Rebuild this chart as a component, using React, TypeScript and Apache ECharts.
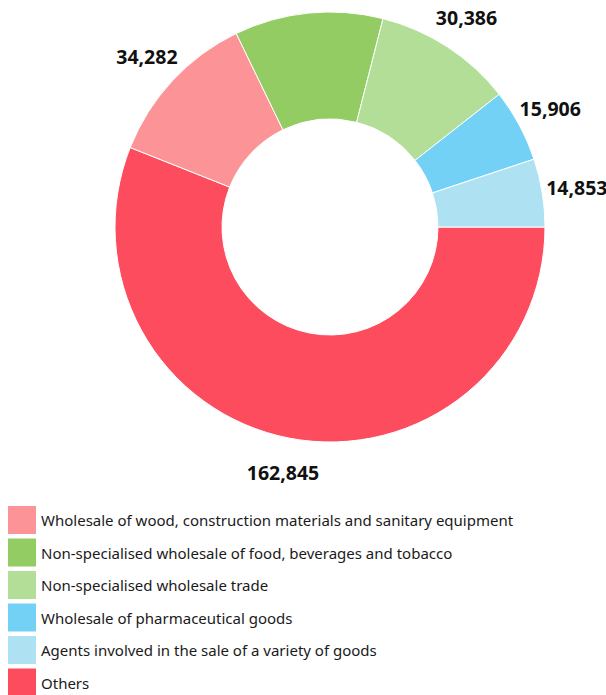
import React, { useEffect, useRef } from "react";
import * as echarts from "echarts";

const categories = [
  "Others",
  "Wholesale of wood, construction materials and sanitary equipment",
  "Non-specialised wholesale of food, beverages and tobacco",
  "Non-specialised wholesale trade",
  "Wholesale of pharmaceutical goods",
  "Agents involved in the sale of a variety of goods",
];
const values = [162845, 34282, 32400, 30386, 15906, 14853];
const showLabel = [true, true, false, true, true, true];
const colors = ["#FC4C5D", "#FB9397", "#93CC62", "#B2DE98", "#74D1F6", "#AEE2F3"];
const legendOrder = [
  "Wholesale of wood, construction materials and sanitary equipment",
  "Non-specialised wholesale of food, beverages and tobacco",
  "Non-specialised wholesale trade",
  "Wholesale of pharmaceutical goods",
  "Agents involved in the sale of a variety of goods",
  "Others",
];

export default function App() {
  const ref = useRef<HTMLDivElement>(null);
  useEffect(() => {
    document.body.style.margin = "0";
    const chart = echarts.init(ref.current!, null, { renderer: "svg" });
    const fmt = (v: number) => v.toLocaleString("en-US");
    chart.setOption({
      animation: false,
      color: colors,
      legend: {
        orient: "vertical",
        left: 8,
        top: 506,
        height: 220,
        padding: 0,
        itemWidth: 28,
        itemHeight: 28,
        itemGap: 4.5,
        icon: "rect",
        itemStyle: { borderWidth: 0 },
        data: legendOrder,
        textStyle: { fontFamily: "Noto Sans", fontSize: 15, color: "#1a1a1a" },
        selectedMode: false,
      },
      series: [
        {
          type: "pie",
          center: [330, 227],
          radius: [108, 215],
          startAngle: 0,
          clockwise: true,
          silent: true,
          label: { show: false },
          labelLine: { show: false },
          itemStyle: { borderColor: "#fff", borderWidth: 1 },
          data: categories.map((c, i) => ({ name: c, value: values[i] })),
        },
        {
          type: "pie",
          center: [330, 227],
          radius: [236, 258],
          startAngle: 0,
          clockwise: true,
          silent: true,
          legendHoverLink: false,
          itemStyle: { color: "transparent" },
          label: {
            show: true,
            position: "inside",
            fontFamily: "Noto Sans",
            fontWeight: "bold",
            fontSize: 19.5,
            color: "#111",
            formatter: (p: any) => fmt(p.value),
          },
          labelLine: { show: false },
          data: categories.map((c, i) => ({
            name: c + " ",
            value: values[i],
            label: { show: showLabel[i] },
          })),
        },
      ],
    });
    return () => chart.dispose();
  }, []);
  return <div ref={ref} style={{ width: 606, height: 695 }} />;
}
